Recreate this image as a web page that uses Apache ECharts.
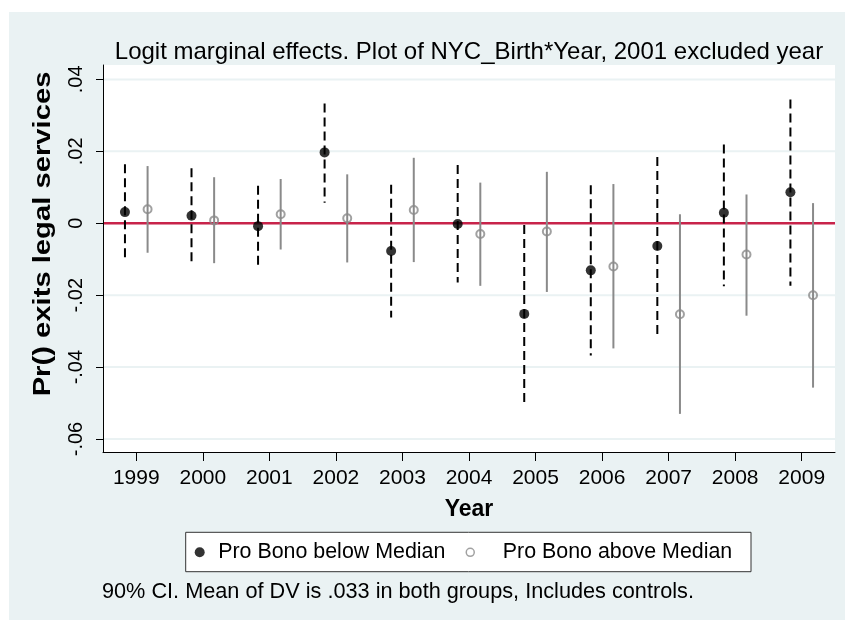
<!DOCTYPE html>
<html><head><meta charset="utf-8">
<script src="https://cdn.jsdelivr.net/npm/echarts@6/dist/echarts.min.js"></script>
<style>html,body{margin:0;padding:0;background:#fff}#c{width:845px;height:620px}</style>
</head><body><div id="c"></div>
<script>
// ---- data ----
const years = [1999, 2000, 2001, 2002, 2003, 2004, 2005, 2006, 2007, 2008, 2009];
const yTicks = [-0.06, -0.04, -0.02, 0, 0.02, 0.04];
const yTickLabels = ['-.06', '-.04', '-.02', '0', '.02', '.04'];
const belowEst = [0.0031, 0.0021, -0.0008, 0.0197, -0.0077, -0.0002, -0.0252, -0.0131, -0.0063, 0.0029, 0.0086];
const belowLo  = [-0.0105, -0.0112, -0.0122, 0.0057, -0.0262, -0.0165, -0.0498, -0.0368, -0.0312, -0.0175, -0.0174];
const belowHi  = [0.0164, 0.0153, 0.0104, 0.0333, 0.0107, 0.0162, -0.0005, 0.0106, 0.0184, 0.0219, 0.0344];
const aboveEst = [0.0039, 0.0008, 0.0025, 0.0014, 0.0037, -0.0030, -0.0023, -0.0120, -0.0253, -0.0087, -0.0200];
const aboveLo  = [-0.0082, -0.0111, -0.0073, -0.0109, -0.0108, -0.0174, -0.0191, -0.0348, -0.0530, -0.0257, -0.0457];
const aboveHi  = [0.0159, 0.0128, 0.0123, 0.0136, 0.0182, 0.0113, 0.0143, 0.0109, 0.0025, 0.0080, 0.0056];
const refValues = [0];
const seriesNames = ['Pro Bono below Median', 'Pro Bono above Median'];

// ---- layout / style ----
const FONT = '"Liberation Sans", Arial, Helvetica, sans-serif';
const OFF = 0.17;
const X_MIN = 1998.5, X_MAX = 2009.5;
const Y_MIN = -0.0636, Y_MAX = 0.044;
const BG = '#EAF2F3';

const chart = echarts.init(document.getElementById('c'), null, { renderer: 'canvas' });

function ciSeries(name, offset, lo, hi, style, z) {
  return {
    type: 'custom', name: name + ' CI', silent: true, z: z,
    data: years.map((y, i) => [y + offset, hi[i], lo[i]]),
    encode: { x: 0, y: [1, 2] },
    renderItem(params, api) {
      const a = api.coord([api.value(0), api.value(1)]);
      const b = api.coord([api.value(0), api.value(2)]);
      return { type: 'line', shape: { x1: a[0], y1: a[1], x2: b[0], y2: b[1] },
               style: Object.assign({ fill: null }, style) };
    }
  };
}
function hLineSeries(values, style, z) {
  return {
    type: 'custom', silent: true, z: z,
    data: values.map(v => [X_MIN, v]),
    encode: { x: 0, y: 1 },
    renderItem(params, api) {
      const cs = params.coordSys;
      const y = api.coord([X_MIN, api.value(1)])[1];
      return { type: 'line', shape: { x1: cs.x + 1, y1: y, x2: cs.x + cs.width, y2: y },
               style: Object.assign({ fill: null }, style) };
    }
  };
}

const option = {
  backgroundColor: '#ffffff',
  animation: false,
  textStyle: { fontFamily: FONT },
  grid: { left: 103, right: 10, top: 65, bottom: 168, show: true, backgroundColor: '#ffffff', borderWidth: 0 },
  xAxis: {
    type: 'value', min: X_MIN, max: X_MAX,
    axisLine: { show: true, onZero: false, lineStyle: { color: '#000', width: 1 } },
    axisTick: { show: true, customValues: years, length: 9, lineStyle: { color: '#000', width: 1 } },
    axisLabel: { customValues: years, fontSize: 21, color: '#000', margin: 16, fontFamily: FONT,
                 formatter: v => String(Math.round(v)) },
    splitLine: { show: false },
    name: 'Year', nameLocation: 'middle', nameGap: 46,
    nameTextStyle: { fontSize: 23, fontWeight: 'bold', color: '#000', fontFamily: FONT }
  },
  yAxis: {
    type: 'value', min: Y_MIN, max: Y_MAX,
    axisLine: { show: true, onZero: false, lineStyle: { color: '#000', width: 1 } },
    axisTick: { show: true, customValues: yTicks, length: 7, lineStyle: { color: '#000', width: 1 } },
    axisLabel: { customValues: yTicks, rotate: 90, fontSize: 20, color: '#000', margin: 17, fontFamily: FONT,
                 formatter: v => { const i = yTicks.findIndex(t => Math.abs(t - v) < 1e-9); return i >= 0 ? yTickLabels[i] : ''; } },
    splitLine: { show: false }
  },
  legend: [
    { data: [{ name: seriesNames[0], icon: 'circle', itemStyle: { color: '#000', borderWidth: 0 } }],
      left: 194.7, top: 541.3, itemWidth: 27, itemHeight: 10, padding: 0, selectedMode: false,
      textStyle: { fontSize: 21.4, color: '#000', lineHeight: 22, fontFamily: FONT } },
    { data: [{ name: seriesNames[1], icon: 'circle', itemStyle: { color: 'rgba(0,0,0,0)', borderColor: '#8a8a8a', borderWidth: 1.5 } }],
      left: 465.5, top: 541.3, itemWidth: 55, itemHeight: 8, padding: 0, selectedMode: false,
      textStyle: { fontSize: 21.4, color: '#000', lineHeight: 22, fontFamily: FONT } }
  ],
  graphic: [
    { type: 'rect', silent: true, z: -100, shape: { x: 9, y: 12, width: 836, height: 608 }, style: { fill: BG } },
    { type: 'rect', silent: true, z: 1, shape: { x: 185.7, y: 532.3, width: 565.3, height: 39.4 },
      style: { fill: '#fff', stroke: '#333', lineWidth: 1 } },
    { type: 'text', silent: true, z: 5, x: 469, y: 52,
      style: { text: 'Logit marginal effects. Plot of NYC_Birth*Year, 2001 excluded year', fontSize: 24,
               fontFamily: FONT, fill: '#000', align: 'center', verticalAlign: 'middle' } },
    { type: 'text', silent: true, z: 5, x: 44, y: 234, rotation: Math.PI / 2, scaleX: 1.27,
      style: { text: 'Pr() exits legal services', fontSize: 23, fontWeight: 'bold',
               fontFamily: FONT, fill: '#000', align: 'center', verticalAlign: 'middle' } },
    { type: 'text', silent: true, z: 5, x: 102, y: 592,
      style: { text: '90% CI. Mean of DV is .033 in both groups, Includes controls.', fontSize: 21.7,
               fontFamily: FONT, fill: '#000', align: 'left', verticalAlign: 'middle' } }
  ],
  series: [
    hLineSeries(yTicks, { stroke: BG, lineWidth: 2 }, 1),
    hLineSeries(refValues, { stroke: '#c8234a', lineWidth: 2.5 }, 2),
    ciSeries(seriesNames[0], -OFF, belowLo, belowHi, { stroke: '#000', lineWidth: 2, lineDash: [9, 5] }, 3),
    ciSeries(seriesNames[1], OFF, aboveLo, aboveHi, { stroke: '#8a8a8a', lineWidth: 2 }, 3),
    { type: 'scatter', name: seriesNames[0], z: 5, silent: true, symbol: 'circle', symbolSize: 10,
      data: years.map((y, i) => [y - OFF, belowEst[i]]),
      itemStyle: { color: '#000' }, emphasis: { disabled: true } },
    { type: 'scatter', name: seriesNames[1], z: 5, silent: true, symbol: 'circle', symbolSize: 8,
      data: years.map((y, i) => [y + OFF, aboveEst[i]]),
      itemStyle: { color: 'rgba(0,0,0,0)', borderColor: '#8a8a8a', borderWidth: 2 }, emphasis: { disabled: true } }
  ]
};
chart.setOption(option);
</script></body></html>
